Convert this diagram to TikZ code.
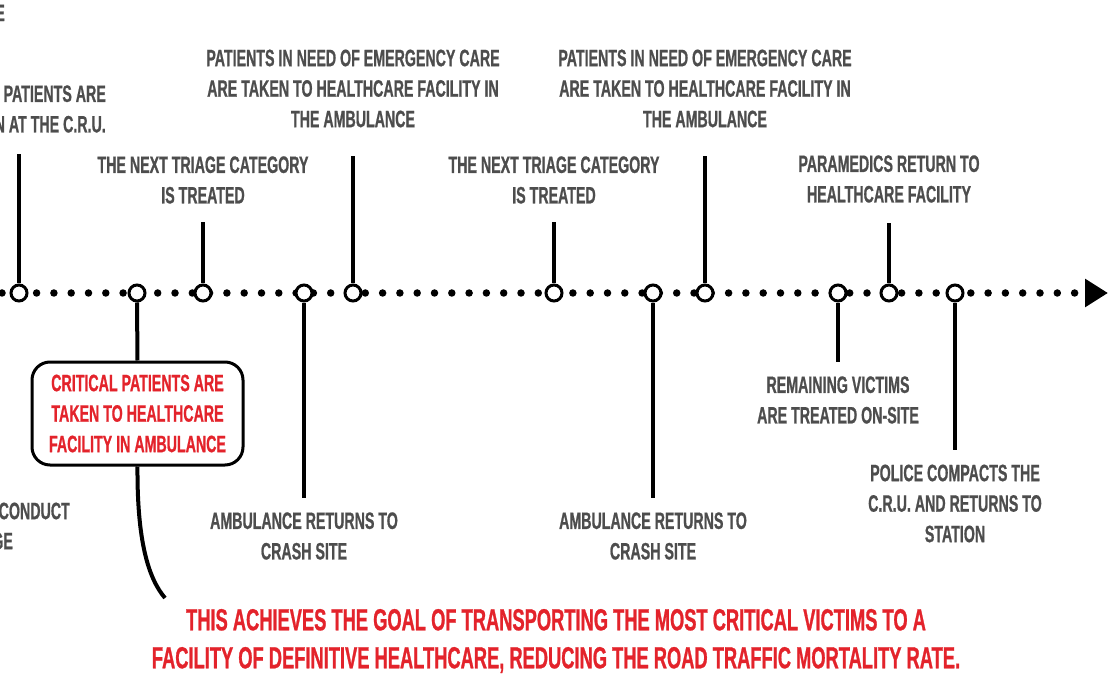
\documentclass[tikz,border=0pt]{standalone}
\usepackage{fontspec}
\setmainfont{Liberation Sans}[FakeStretch=0.6, BoldFeatures={FakeBold=0.8}]
\usepackage{xcolor}
\usetikzlibrary{arrows.meta, positioning}
\definecolor{grisTexto}{HTML}{4D4D4D}
\definecolor{rojo}{HTML}{E3232B}
\tikzset{
  etiq/.style={text=grisTexto, font=\fontsize{23.7}{30.5}\selectfont\bfseries, align=center, inner sep=0pt},
  etiqroja/.style={etiq, text=rojo},
  meta/.style={etiq, text=rojo, font=\fontsize{30.5}{38}\selectfont\bfseries},
  hito/.style={circle, draw=black, fill=white, line width=3pt, minimum size=16pt, inner sep=0pt},
  tallo/.style={line width=4pt, black},
  caja/.style={draw=black, line width=3pt, rounded corners=18pt, minimum width=211pt, minimum height=103pt},
  puntos/.style={line width=7.5pt, line cap=round, dash pattern=on 0pt off 17.3pt},
}
\begin{document}
\begin{tikzpicture}[x=1pt, y=-1pt]
  \useasboundingbox (0,0) rectangle (1108,676);
  % linea de tiempo
  \coordinate (ini) at (2,293);
  \coordinate (fin) at (1108,293);
  \draw[puntos, -{Triangle[length=23pt, width=27pt]}] (ini) -- (fin);
  % hitos
  \node[hito] (h1) at (19,293) {};
  \node[hito] (h2) at (137,293) {};
  \node[hito] (h3) at (203,293) {};
  \node[hito] (h4) at (304,293) {};
  \node[hito] (h5) at (353,293) {};
  \node[hito] (h6) at (554,293) {};
  \node[hito] (h7) at (653,293) {};
  \node[hito] (h8) at (705,293) {};
  \node[hito] (h9) at (838,293) {};
  \node[hito] (h10) at (889,293) {};
  \node[hito] (h11) at (955,293) {};
  % etiquetas
  \node[etiq, anchor=east] (t0) at (5,13) {E};
  \node[etiq, anchor=east, align=right] (t1) at (106,109) {PATIENTS ARE\\N AT THE C.R.U.};
  \node[etiq, anchor=east] (t0b) at (70,511) {CONDUCT};
  \node[etiq, anchor=east] (t0c) at (13,541) {GE};
  \node[etiq] (t2) at (203,180) {THE NEXT TRIAGE CATEGORY\\IS TREATED};
  \node[etiq] (t3) at (353,88.5) {PATIENTS IN NEED OF EMERGENCY CARE\\ARE TAKEN TO HEALTHCARE FACILITY IN\\THE AMBULANCE};
  \node[etiq] (t4) at (304,536) {AMBULANCE RETURNS TO\\CRASH SITE};
  \node[etiq] (t5) at (554,180) {THE NEXT TRIAGE CATEGORY\\IS TREATED};
  \node[etiq] (t6) at (653,536) {AMBULANCE RETURNS TO\\CRASH SITE};
  \node[etiq] (t7) at (705,88.5) {PATIENTS IN NEED OF EMERGENCY CARE\\ARE TAKEN TO HEALTHCARE FACILITY IN\\THE AMBULANCE};
  \node[etiq] (t8) at (838,400) {REMAINING VICTIMS\\ARE TREATED ON-SITE};
  \node[etiq] (t9) at (889,179) {PARAMEDICS RETURN TO\\HEALTHCARE FACILITY};
  \node[etiq] (t10) at (955,503.5) {POLICE COMPACTS THE\\C.R.U. AND RETURNS TO\\STATION};
  \node[caja, etiqroja] (c1) at (137.5,413.5) {CRITICAL PATIENTS ARE\\TAKEN TO HEALTHCARE\\FACILITY IN AMBULANCE};
  \node[meta] (m1) at (556,641) {THIS ACHIEVES THE GOAL OF TRANSPORTING THE MOST CRITICAL VICTIMS TO A\\FACILITY OF DEFINITIVE HEALTHCARE, REDUCING THE ROAD TRAFFIC MORTALITY RATE.};
  \coordinate (fincurva) at (165,598);
  % tallos
  \draw[tallo, shorten >=21pt] (h1.north) -- (h1 |- t1.south);
  \draw[tallo] (h2.south) -- (c1.north);
  \draw[tallo, shorten >=18pt] (h3.north) -- (t2.south);
  \draw[tallo, shorten >=14pt] (h4.south) -- (t4.north);
  \draw[tallo, shorten >=28pt] (h5.north) -- (t3.south);
  \draw[tallo, shorten >=18pt] (h6.north) -- (t5.south);
  \draw[tallo, shorten >=14pt] (h7.south) -- (t6.north);
  \draw[tallo, shorten >=28pt] (h8.north) -- (t7.south);
  \draw[tallo, shorten >=14pt] (h9.south) -- (t8.north);
  \draw[tallo, shorten >=20pt] (h10.north) -- (t9.south);
  \draw[tallo, shorten >=14pt] (h11.south) -- (t10.north);
  \draw[tallo] (c1.south) .. controls (137,540) and (148,578) .. (fincurva);
\end{tikzpicture}
\end{document}
